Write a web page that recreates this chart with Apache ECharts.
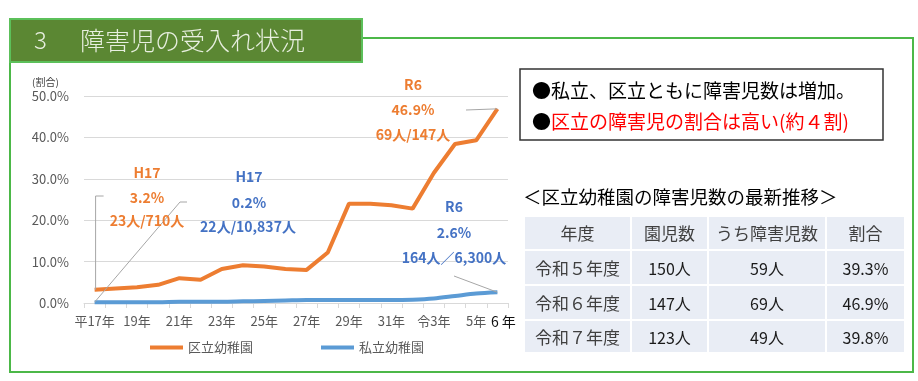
<!DOCTYPE html>
<html><head><meta charset="utf-8">
<script src="https://cdn.jsdelivr.net/npm/echarts@6/dist/echarts.min.js"></script>
<style>html,body{margin:0;padding:0;background:#fff}#c{width:918px;height:381px}</style>
</head><body><div id="c"></div>
<script>
const categories = ['平17年','18年','19年','20年','21年','22年','23年','24年','25年','26年','27年','28年','29年','30年','31年','令2年','令3年','4年','5年','6年'];
const kuritsu = [3.2,3.5,3.8,4.4,6.0,5.6,8.2,9.1,8.8,8.2,8.0,12.2,24.0,24.0,23.6,22.8,31.4,38.4,39.3,46.9];
const shiritsu = [0.2,0.2,0.2,0.2,0.3,0.3,0.3,0.4,0.5,0.6,0.7,0.7,0.7,0.7,0.7,0.8,1.1,1.7,2.3,2.6];
const yTicks = [0,10,20,30,40,50];
const seriesNames = ['区立幼稚園','私立幼稚園'];
const tableHeader = ['年度','園児数','うち障害児数','割合'];
const tableYears = ['令和５年度','令和６年度','令和７年度'];
const tableEnrolled = ['150人','147人','123人'];
const tableDisabled = ['59人','69人','49人'];
const tableRatio = ['39.3%','46.9%','39.8%'];

const FONT = '"Noto Sans CJK JP", "Noto Sans", sans-serif';
const ORANGE = '#ed7d31', BLUE = '#5b9bd5', ABLUE = '#4472c4';
const chart = echarts.init(document.getElementById('c'), null, {renderer:'canvas'});
chart.setOption({
  animation:false,
  textStyle:{fontFamily:FONT},
  grid:{left:84,right:410,top:96,bottom:78},
  xAxis:{type:'category',data:categories,boundaryGap:true,
    axisLine:{lineStyle:{color:'#d9d9d9'}},
    axisTick:{show:true,interval:0,length:5,lineStyle:{color:'#d9d9d9'}},
    axisLabel:{interval:(i)=> i%2===0 || i===categories.length-1,
      color:'#595959',fontSize:13,margin:12,fontFamily:FONT,
      formatter:(v,i)=> i===categories.length-1 ? '{b|6 年}' : v,
      rich:{b:{color:'#111',fontSize:14,padding:[0,0,0,12],fontFamily:FONT}}}},
  yAxis:{type:'value',min:yTicks[0],max:yTicks[yTicks.length-1],interval:10,
    axisLine:{show:false},axisTick:{show:false},
    splitLine:{lineStyle:{color:'#d9d9d9'}},
    axisLabel:{color:'#595959',fontSize:13,margin:15,fontFamily:FONT,formatter:(v)=>v.toFixed(1)+'%'}},
  legend:{left:145,top:336,icon:'rect',itemWidth:33,itemHeight:4,itemGap:68,
    textStyle:{color:'#595959',fontSize:13,fontFamily:FONT},data:seriesNames},
  series:[
    {name:seriesNames[0],type:'line',data:kuritsu,showSymbol:false,smooth:false,
      lineStyle:{color:ORANGE,width:4},itemStyle:{color:ORANGE}},
    {name:seriesNames[1],type:'line',data:shiritsu,showSymbol:false,smooth:0.3,
      lineStyle:{color:BLUE,width:4},itemStyle:{color:BLUE}}
  ]
});

const n = categories.length-1;
const po0 = chart.convertToPixel({gridIndex:0},[0,kuritsu[0]]);
const pb0 = chart.convertToPixel({gridIndex:0},[0,shiritsu[0]]);
const poN = chart.convertToPixel({gridIndex:0},[n,kuritsu[n]]);
const pbN = chart.convertToPixel({gridIndex:0},[n,shiritsu[n]]);

const g = [];
// frame
g.push({type:'polyline',shape:{points:[[10,60],[10,372],[913,372],[913,38],[362,38]]},style:{stroke:'#4cb848',lineWidth:2,fill:null},z:1});
g.push({type:'rect',shape:{x:10,y:19,width:352,height:43},style:{fill:'#5b8733',stroke:'#5cc05a',lineWidth:2},z:2});
g.push({type:'text',x:34,y:40,style:{text:'3',fill:'#e8efe0',font:'300 24px '+FONT,verticalAlign:'middle'},z:3});
g.push({type:'text',x:80,y:40,style:{text:'障害児の受入れ状況',fill:'#e8efe0',font:'300 25px '+FONT,verticalAlign:'middle'},z:3});
// (割合)
g.push({type:'text',x:32,y:82,style:{text:'(割合)',fill:'#404040',font:'10px '+FONT,verticalAlign:'middle'}});
// annotations
function ann(x,y,t,c){g.push({type:'text',x:x,y:y,style:{text:t,fill:c,font:'bold 14px '+FONT,align:'center',verticalAlign:'middle'},z:5});}
ann(147,173,'H17',ORANGE); ann(147,198,'3.2%',ORANGE); ann(147,221,'23人/710人',ORANGE);
ann(249,177,'H17',ABLUE); ann(249,203,'0.2%',ABLUE); ann(248,227,'22人/10,837人',ABLUE);
ann(413,85,'R6',ORANGE); ann(413,110,'46.9%',ORANGE); ann(413,135,'69人/147人',ORANGE);
ann(454,207,'R6',ABLUE); ann(454,233,'2.6%',ABLUE); ann(454,258,'164人／6,300人',ABLUE);
const L = {stroke:'#a6a6a6',lineWidth:1,fill:null};
g.push({type:'polyline',shape:{points:[[po0[0]+1,po0[1]],[po0[0]+1,196],[po0[0]+9,196]]},style:L,z:4});
g.push({type:'polyline',shape:{points:[[pb0[0],pb0[1]],[180,202],[187,202]]},style:L,z:4});
g.push({type:'line',shape:{x1:466,y1:110,x2:poN[0],y2:poN[1]},style:L,z:4});
g.push({type:'line',shape:{x1:454,y1:276,x2:pbN[0],y2:pbN[1]},style:L,z:4});
// text box
g.push({type:'rect',shape:{x:520,y:69,width:363,height:71},style:{fill:'#fff',stroke:'#333',lineWidth:1.5}});
g.push({type:'text',x:532,y:91,style:{text:'●私立、区立ともに障害児数は増加。',fill:'#000',font:'19px '+FONT,verticalAlign:'middle'}});
g.push({type:'text',x:532,y:122,style:{text:'●',fill:'#000',font:'19px '+FONT,verticalAlign:'middle'}});
g.push({type:'text',x:551,y:122,style:{text:'区立の障害児の割合は高い(約４割)',fill:'#ff0000',font:'19px '+FONT,verticalAlign:'middle'}});
// table title
g.push({type:'text',x:523,y:197,style:{text:'＜区立幼稚園の障害児数の最新推移＞',fill:'#000',font:'18.5px '+FONT,verticalAlign:'middle'}});
// table
const colX = [524,631,708,826,905];
const rowY = [216,250,285,320,353];
const rows = [tableHeader].concat(tableYears.map((y,i)=>[y,tableEnrolled[i],tableDisabled[i],tableRatio[i]]));
for(let r=0;r<rows.length;r++){
  for(let c=0;c<4;c++){
    g.push({type:'rect',shape:{x:colX[c]+1,y:rowY[r]+1,width:colX[c+1]-colX[c]-2,height:rowY[r+1]-rowY[r]-2},style:{fill:'#e9edf5'}});
    const txt = rows[r][c];
    const isNum = r>0 && c>0;
    g.push({type:'text',x:(colX[c]+colX[c+1])/2,y:(rowY[r]+rowY[r+1])/2+1,
      style:{text:txt,fill: isNum?'#1a1a1a':'#404040',font:(isNum?'16px ':'17px ')+FONT,align:'center',verticalAlign:'middle'}});
  }
}
chart.setOption({graphic:g});
</script>
</body></html>
